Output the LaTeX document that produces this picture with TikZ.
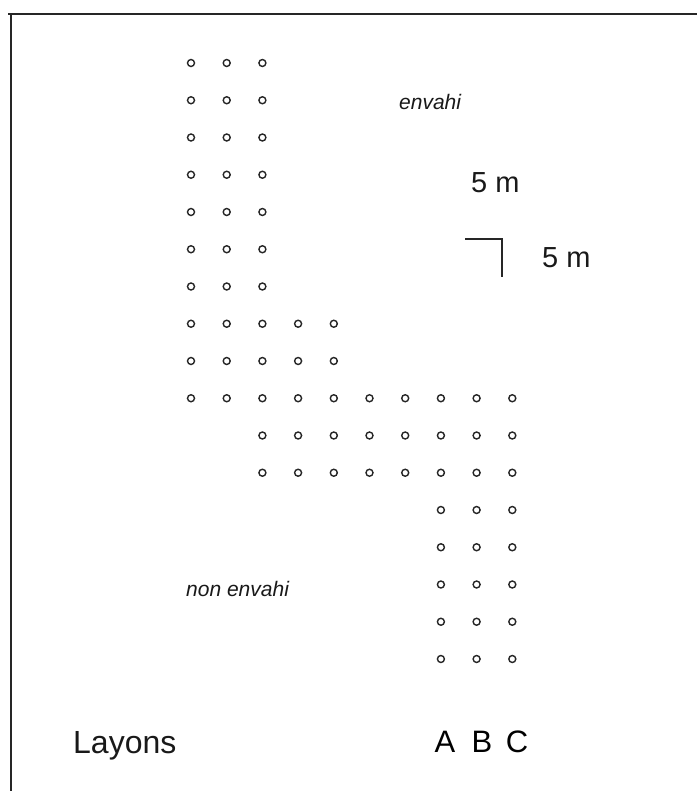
\documentclass[tikz,border=0pt]{standalone}
\usepackage{fontspec}
\setmainfont{Liberation Sans}
\begin{document}
\begin{tikzpicture}[x=1pt,y=-1pt,
  dot/.style={circle,draw=black!85,line width=1.4pt,minimum size=7pt,inner sep=0pt},
  lbl/.style={anchor=base west,inner sep=0pt,text=black!90},
  frame/.style={line width=1.4pt,black!85}]
\useasboundingbox (0,0) rectangle (697,791);
\draw[frame] (8,14) -- (697,14);
\draw[frame,line width=1.1pt] (11,14) -- (11,791);
% dots
\def\cx#1{191+35.7*(#1-1)}
\def\ry#1{63+37.25*(#1-1)}
\foreach \r in {1,...,7}{\foreach \c in {1,2,3}{\node[dot] (d-\c-\r) at ({\cx{\c}},{\ry{\r}}) {};}}
\foreach \r in {8,9}{\foreach \c in {1,...,5}{\node[dot] (d-\c-\r) at ({\cx{\c}},{\ry{\r}}) {};}}
\foreach \c in {1,...,10}{\node[dot] (d-\c-10) at ({\cx{\c}},{\ry{10}}) {};}
\foreach \r in {11,12}{\foreach \c in {3,...,10}{\node[dot] (d-\c-\r) at ({\cx{\c}},{\ry{\r}}) {};}}
\foreach \r in {13,...,17}{\foreach \c in {8,9,10}{\node[dot] (d-\c-\r) at ({\cx{\c}},{\ry{\r}}) {};}}
% labels
\node[lbl,font=\fontsize{21}{25}\selectfont\itshape] (envahi) at (399,110) {envahi};
\node[lbl,font=\fontsize{21}{25}\selectfont\itshape] (nonenvahi) at (186,596) {non envahi};
\node[lbl,font=\fontsize{29}{34}\selectfont] (m1) at (471,193) {5 m};
\node[lbl,font=\fontsize{29}{34}\selectfont] (m2) at (542,268) {5 m};
\coordinate (s1) at (465,239);
\coordinate (s2) at (502,239);
\coordinate (s3) at (502,277);
\draw[line width=1.2pt,black!85] (s1) -- (s2) -- (s3);
\node[lbl,font=\fontsize{32}{38}\selectfont] (layons) at (73,753) {Layons};
\node[anchor=base,inner sep=0pt,font=\fontsize{31}{37}\selectfont] (A) at (445,752) {A};
\node[anchor=base,inner sep=0pt,font=\fontsize{31}{37}\selectfont] (B) at (482,752) {B};
\node[anchor=base,inner sep=0pt,font=\fontsize{31}{37}\selectfont] (C) at (517,752) {C};
\end{tikzpicture}
\end{document}
